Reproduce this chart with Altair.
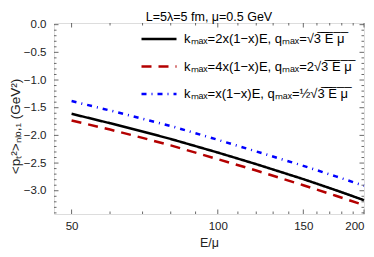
import altair as alt
import pandas as pd

E = [50, 60, 70, 80, 100, 120, 150, 175, 200]
black = [-1.61, -1.78, -1.93, -2.065, -2.31, -2.52, -2.79, -2.99, -3.17]
red = [-1.73, -1.895, -2.045, -2.18, -2.43, -2.635, -2.90, -3.09, -3.26]
blue = [-1.38, -1.55, -1.70, -1.83, -2.08, -2.29, -2.55, -2.74, -2.91]

OL = "\u0305"
def over(s):
    return "".join(c + OL for c in s)

labels = [
    "k\u2098\u2090\u2093=2x(1\u2212x)E, q\u2098\u2090\u2093=\u221a" + over("3 E \u03bc"),
    "k\u2098\u2090\u2093=4x(1\u2212x)E, q\u2098\u2090\u2093=2\u221a" + over("3 E \u03bc"),
    "k\u2098\u2090\u2093=x(1\u2212x)E, q\u2098\u2090\u2093=\u00bd\u221a" + over("3 E \u03bc"),
]
colors = ["#000000", "#B40000", "#0000FF"]
dashes = [[1, 0], [10, 7], [5, 5, 1, 5]]

x_major = [50, 100, 150, 200]
x_minor = [60, 70, 80, 90, 110, 120, 130, 140, 160, 170, 180, 190]
y_major = [0.0, -0.5, -1.0, -1.5, -2.0, -2.5, -3.0]
y_minor = [-0.1, -0.2, -0.3, -0.4, -0.6, -0.7, -0.8, -0.9, -1.1, -1.2, -1.3, -1.4,
           -1.6, -1.7, -1.8, -1.9, -2.1, -2.2, -2.3, -2.4, -2.6, -2.7, -2.8, -2.9,
           -3.1, -3.2, -3.3, -3.4]

rows = []
for lab, ys in zip(labels, [black, red, blue]):
    for e, v in zip(E, ys):
        rows.append({"E": e, "v": v, "s": lab})
df = pd.DataFrame(rows)

W, H = 310, 191
xs = alt.Scale(type="log", domain=[46, 200], nice=False)
ys_ = alt.Scale(domain=[-3.42, 0.03], nice=False, zero=False)

xaxis = alt.Axis(values=x_major, format="d", ticks=False, domain=False, grid=False,
                 labelPadding=6, labelOverlap=False, labelFlush=True, title="E/\u03bc", titleY=28,
                 titleBaseline="middle", titleFontSize=12.5, titleFontWeight="normal")
yaxis = alt.Axis(values=y_major, format=".1f", ticks=False, domain=False, grid=False,
                 labelPadding=8, labelOverlap=False,
                 title="<p\u209c\u00b2>\u2099\u2097\u2092,\u2081 (GeV\u00b2)",
                 titleX=-39, titleY=103, titleAngle=270, titleAlign="center",
                 titleBaseline="middle", titleFontSize=13.5, titleFontWeight="normal")

leg = dict(title=None, orient="none", legendX=86, legendY=-3,
           symbolType="stroke", symbolSize=1225, symbolStrokeWidth=2.5,
           rowPadding=1.5, labelFontSize=13, labelOffset=6, labelLimit=300)

lines = alt.Chart(df).mark_line(strokeWidth=2.5).encode(
    x=alt.X("E:Q", scale=xs, axis=xaxis),
    y=alt.Y("v:Q", scale=ys_, axis=yaxis),
    color=alt.Color("s:N", scale=alt.Scale(domain=labels, range=colors), legend=alt.Legend(**leg)),
    strokeDash=alt.StrokeDash("s:N", scale=alt.Scale(domain=labels, range=dashes),
                              legend=alt.Legend(**leg)),
    order=alt.Order("E:Q"),
)

def xticks(vals, L):
    d = pd.DataFrame({"E": vals})
    b = alt.Chart(d).mark_rule(color="#444", strokeWidth=0.8).encode(
        x=alt.X("E:Q", scale=xs, axis=xaxis), y=alt.value(H), y2=alt.value(H - L))
    t = alt.Chart(d).mark_rule(color="#444", strokeWidth=0.8).encode(
        x=alt.X("E:Q", scale=xs, axis=xaxis), y=alt.value(0), y2=alt.value(L))
    return [b, t]

def yticks(vals, L):
    d = pd.DataFrame({"v": vals})
    l = alt.Chart(d).mark_rule(color="#444", strokeWidth=0.8).encode(
        y=alt.Y("v:Q", scale=ys_, axis=yaxis), x=alt.value(0), x2=alt.value(L))
    r = alt.Chart(d).mark_rule(color="#444", strokeWidth=0.8).encode(
        y=alt.Y("v:Q", scale=ys_, axis=yaxis), x=alt.value(W), x2=alt.value(W - L))
    return [l, r]

layers = [lines] + xticks(x_major, 4.5) + xticks(x_minor, 2.5) + yticks(y_major, 4.5) + yticks(y_minor, 2.5)

chart = alt.layer(*layers).properties(
    width=W, height=H,
    title=alt.TitleParams("L=5\u03bb=5 fm, \u03bc=0.5 GeV", fontSize=12.5, fontWeight="normal",
                          anchor="middle", offset=0, dy=5, font="Liberation Sans"),
    autosize=alt.AutoSizeParams(type="none"),
    padding={"left": 46, "top": 15, "right": 2, "bottom": 35},
).configure_view(stroke="#444", strokeWidth=1).configure(
    font="Liberation Sans"
).configure_axis(
    labelFontSize=11.5, labelColor="#222", titleColor="#222", labelFont="Liberation Sans",
    titleFont="Liberation Sans"
).configure_legend(labelFont="Liberation Sans", labelColor="#000")

chart.save("out.html", embed_options={"renderer": "svg", "actions": False})
